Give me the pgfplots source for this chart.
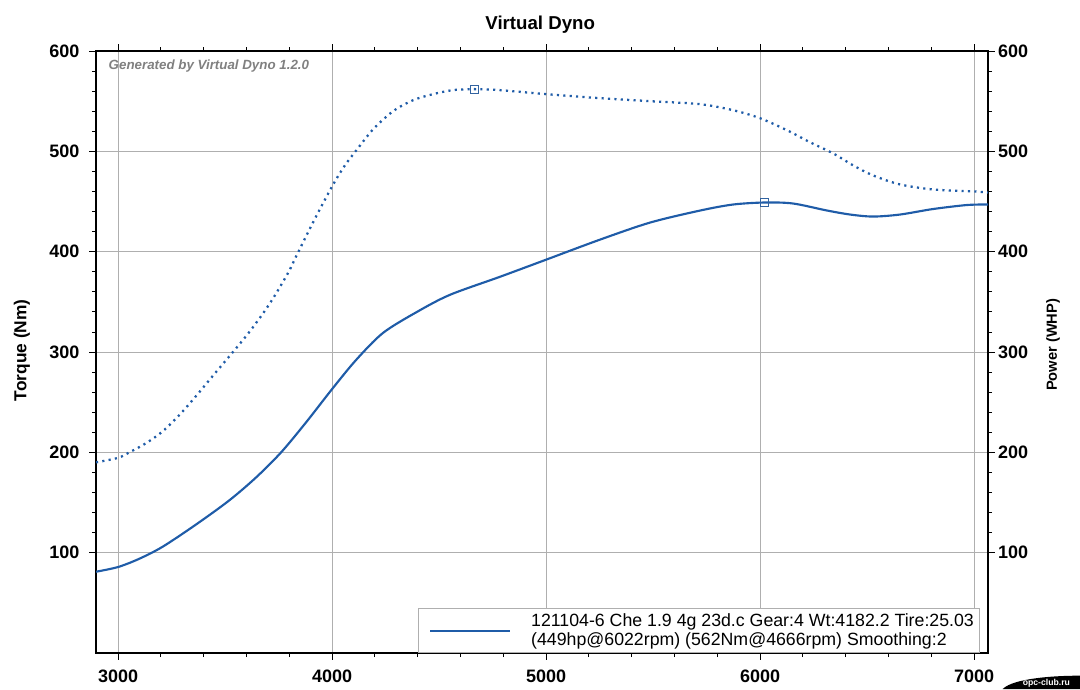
\documentclass[border=0pt]{standalone}
\usepackage{pgfplots}
\pgfplotsset{compat=1.18}
\usepackage{fontspec}
\setmainfont{Liberation Sans}
\definecolor{dyno}{RGB}{31,92,168}
\definecolor{gridc}{RGB}{175,175,175}

% torque (Nm) vs rpm
\pgfplotstableread{
rpm  val
2897 190
3000 194.5
3053 200
3130 209
3209 221
3290 238
3364 256
3450 278
3537 300
3610 319
3676 338
3720 352
3757 365
3800 381
3836 397
3918 432
4000 465
4060 486
4117 502
4192 522
4285 540
4379 551
4472 557
4565 561
4666 562
4785 561
5000 557
5252 553
5486 550
5720 547
5874 541
6000 533
6126 521
6234 509
6341 498
6435 486
6528 476
6654 467
6808 462
7000 460
7065 459
}\torque
% power (WHP) vs rpm
\pgfplotstableread{
rpm  val
2897 81
3000 85.7
3100 94
3209 106
3364 128
3519 152
3645 175
3762 200
3879 230
4000 263
4112 292
4238 319
4397 340
4551 357
4785 375
5000 392
5252 412
5486 429
5720 441
5874 447
6022 449
6154 448
6313 441
6421 437
6528 435
6654 437
6808 442.5
6967 446.5
7065 447
}\power

\begin{document}
\begin{tikzpicture}
\useasboundingbox (0,0) rectangle (810pt,516.75pt);
\begin{axis}[
  at={(72pt,27pt)}, anchor=south west,
  scale only axis, width=669pt, height=451.5pt,
  xmin=2897, xmax=7065, ymin=0, ymax=600,
  xtick={3000,4000,5000,6000,7000},
  ytick={100,200,300,400,500,600},
  minor tick num=4,
  tick align=outside,
  major tick length=5pt, minor tick length=3pt,
  tick style={black, line width=0.6pt},
  axis line style={black, line width=0.8pt},
  grid=major,
  major grid style={gridc, line width=0.6pt},
  x tick label style={/pgf/number format/1000 sep={}, yshift=-4pt},
  y tick label style={xshift=-4pt},
  /pgf/number format/assume math mode=true,
  tick label style={font=\fontsize{13.5}{14}\selectfont\bfseries},
  xtick pos=both, ytick pos=both,
  xticklabel pos=bottom, yticklabel pos=left,
  ylabel={Torque (Nm)},
  ylabel style={font=\fontsize{13}{14}\selectfont\bfseries, at={(axis description cs:-0.083,0.503)}, anchor=center},
  title={Virtual Dyno},
  title style={font=\fontsize{14}{15}\selectfont\bfseries, at={(axis description cs:0.498,1.030)}, anchor=center},
  legend style={at={(axis description cs:0.361,0)}, anchor=south west,
    draw=gridc, fill=white, line width=0.6pt,
    font=\fontsize{13.3}{14}\selectfont,
    inner sep=2pt,
    cells={align=left, anchor=west, inner ysep=0.5pt}},
  legend image code/.code={\draw[dyno, line width=1.5pt] (6pt,0pt) -- (66pt,0pt); \path (0pt,0pt) (79pt,0pt);},
  clip=true,
]
\addplot[dyno, line width=1.7pt, dash pattern=on 1.6pt off 3.2pt, smooth, forget plot] table[x=rpm,y=val] {\torque};
\addplot[dyno, line width=1.6pt, smooth] table[x=rpm,y=val] {\power};
\addlegendentry{121104-6 Che 1.9 4g 23d.c Gear:4 Wt:4182.2 Tire:25.03\\(449hp@6022rpm) (562Nm@4666rpm) Smoothing:2}
\addplot[dyno!80!gray, only marks, mark=square, mark size=3pt, mark options={line width=0.6pt}, forget plot] coordinates {(4666,562) (6022,449)};
\node[anchor=west, text=gray, font=\fontsize{10}{12}\selectfont\bfseries\itshape] at (axis description cs:0.009,0.975) {Generated by Virtual Dyno 1.2.0};
\end{axis}
\begin{axis}[
  at={(72pt,27pt)}, anchor=south west,
  scale only axis, width=669pt, height=451.5pt,
  xmin=2897, xmax=7065, ymin=0, ymax=600,
  xtick=\empty,
  ytick={100,200,300,400,500,600},
  yticklabel pos=right,
  y tick label style={xshift=4pt},
  major tick length=0pt,
  axis line style={draw=none},
  /pgf/number format/assume math mode=true,
  tick label style={font=\fontsize{13.5}{14}\selectfont\bfseries},
  ylabel={Power (WHP)},
  ylabel style={font=\fontsize{11}{12}\selectfont\bfseries, at={(axis description cs:1.073,0.512)}, anchor=center},
]
\addplot[draw=none] coordinates {(3000,0)};
\end{axis}
\fill[black] (752pt,0pt) .. controls (760pt,8pt) and (790pt,10pt) .. (810pt,10pt) -- (810pt,0pt) -- cycle;
\node[text=white, font=\fontsize{6.5}{7}\selectfont\bfseries, anchor=east] at (806pt,4pt) {opc-club.ru};
\end{tikzpicture}
\end{document}
